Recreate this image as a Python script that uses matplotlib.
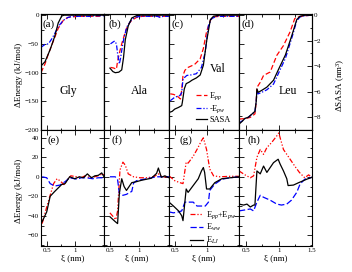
"""Energy and SASA change along the pulling coordinate xi for Gly/Ala/Val/Leu.

Top row: E_pp, -E_pw and SASA (right axis). Bottom row: energy decomposition.
"""

import matplotlib

matplotlib.use("Agg")
import matplotlib.pyplot as plt
from matplotlib.ticker import MultipleLocator

plt.rcParams["font.family"] = ["Liberation Serif", "DejaVu Serif"]
plt.rcParams["mathtext.fontset"] = "custom"
plt.rcParams["mathtext.rm"] = "Liberation Serif"
plt.rcParams["mathtext.it"] = "Liberation Serif:italic"

RESIDUES = ["Gly", "Ala", "Val", "Leu"]
TOP_TAGS = ["(a)", "(b)", "(c)", "(d)"]
BOT_TAGS = ["(e)", "(f)", "(g)", "(h)"]

# ---- top row: E_pp (red), -E_pw (blue) in kJ/mol, SASA (black) in nm^3 ----
a_pp_x = [0.40, 0.47, 0.53, 0.62, 0.70, 0.79, 0.87, 0.95, 1.05, 1.15, 1.25, 1.35, 1.42, 1.45, 1.50]
a_pp_y = [-100, -85, -67, -44, -23, -9, -4, -3, -2, -2, -2, -2, -2, 1, 1]
a_pw_x = [0.40, 0.47, 0.53, 0.59, 0.64, 0.70, 0.79, 0.87, 0.95, 1.05, 1.15, 1.25, 1.35, 1.50]
a_pw_y = [-56, -51, -50, -41, -32, -20, -9, -4, -2, -2, -2, -2, -1, -1]
a_sasa_x = [0.41, 0.47, 0.56, 0.64, 0.70, 0.76, 0.80, 0.90, 1.00, 1.10, 1.20, 1.30, 1.40, 1.50]
a_sasa_y = [-3.93, -3.65, -2.70, -1.66, -0.62, -0.08, 0, 0, 0, 0, 0, 0, 0, 0]

b_pp_x = [0.51, 0.56, 0.61, 0.63, 0.67, 0.70, 0.77, 0.82, 0.87, 0.95, 1.05, 1.20, 1.35, 1.50]
b_pp_y = [-91, -92, -94, -80, -62, -50, -26, -15, -9, -4, -2, -2, -2, -2]
b_pw_x = [0.51, 0.55, 0.58, 0.61, 0.63, 0.66, 0.68, 0.71, 0.74, 0.79, 0.87, 0.95, 1.05, 1.20, 1.30, 1.35, 1.40, 1.50]
b_pw_y = [-50, -47, -45, -50, -67, -85, -75, -55, -38, -20, -7, -3, -2, -2, -2, -4, -2, -2]
b_sasa_x = [0.50, 0.55, 0.59, 0.65, 0.70, 0.73, 0.76, 0.81, 0.87, 0.95, 1.00, 1.10, 1.20, 1.30, 1.40, 1.50]
b_sasa_y = [-4.15, -4.42, -4.51, -4.47, -4.29, -3.34, -1.93, -0.85, -0.22, -0.04, 0, 0, 0, 0, 0, 0]

c_pp_x = [0.42, 0.47, 0.52, 0.58, 0.60, 0.62, 0.65, 0.70, 0.76, 0.81, 0.89, 0.94, 0.99, 1.05, 1.10, 1.20, 1.30, 1.40, 1.50]
c_pp_y = [-137, -138, -140, -146, -130, -105, -96, -91, -88, -85, -76, -58, -29, -9, -3, -2, -2, -2, -2]
c_pw_x = [0.42, 0.49, 0.57, 0.60, 0.62, 0.68, 0.75, 0.83, 0.91, 0.97, 1.02, 1.07, 1.15, 1.25, 1.35, 1.50]
c_pw_y = [-149, -143, -140, -135, -111, -105, -104, -102, -91, -64, -18, -6, -2, -2, -2, -2]
c_sasa_x = [0.40, 0.45, 0.49, 0.55, 0.60, 0.61, 0.64, 0.67, 0.72, 0.76, 0.83, 0.89, 0.94, 0.99, 1.05, 1.10, 1.20, 1.30, 1.40, 1.50]
c_sasa_y = [-7.63, -7.54, -7.36, -7.23, -7.09, -6.82, -5.78, -5.37, -5.24, -5.10, -4.92, -4.69, -3.93, -2.07, -0.35, -0.08, 0, 0, 0, 0]

d_pp_x = [0.40, 0.50, 0.57, 0.64, 0.66, 0.67, 0.72, 0.77, 0.87, 0.97, 1.07, 1.17, 1.24, 1.30, 1.40, 1.50]
d_pp_y = [-181, -180, -178, -172, -150, -126, -117, -105, -99, -70, -53, -29, -6, -3, -1, 0]
d_pw_x = [0.40, 0.45, 0.49, 0.54, 0.60, 0.64, 0.66, 0.67, 0.69, 0.75, 0.82, 0.92, 1.00, 1.10, 1.20, 1.27, 1.32, 1.40, 1.50]
d_pw_y = [-188, -184, -180, -178, -172, -168, -150, -133, -137, -134, -130, -120, -100, -75, -38, -10, -3, -1, 0]
d_sasa_x = [0.40, 0.45, 0.49, 0.54, 0.60, 0.64, 0.66, 0.67, 0.69, 0.75, 0.82, 0.92, 1.00, 1.10, 1.20, 1.27, 1.32, 1.40, 1.50]
d_sasa_y = [-8.54, -8.31, -8.09, -8.00, -7.73, -7.54, -6.73, -5.78, -6.05, -5.87, -5.64, -5.10, -4.20, -3.11, -1.53, -0.35, -0.08, 0, 0]

# ---- bottom row: E_pp+E_pw (red), E_ww (blue), E_LJ (black), kJ/mol ----
e_sum_x = [0.42, 0.50, 0.56, 0.62, 0.68, 0.73, 0.80, 0.86, 0.92, 1.03, 1.10, 1.17, 1.26, 1.37, 1.48, 1.50]
e_sum_y = [-48, -31, -19, -7, -2, -4, -8, -3, 1, 0, -1, 1, -1, 0.5, 3, 2]
e_ww_x = [0.42, 0.50, 0.56, 0.64, 0.73, 0.82, 0.90, 1.03, 1.10, 1.19, 1.30, 1.40, 1.50]
e_ww_y = [0, -1, -7, -9.5, -8.5, -5, -1, -2.5, -1, -1, -2, -1, -1]
e_lj_x = [0.42, 0.50, 0.56, 0.64, 0.76, 0.82, 0.90, 0.99, 1.07, 1.14, 1.21, 1.28, 1.34, 1.40, 1.46, 1.50]
e_lj_y = [-46, -36, -20, -15, -8, -7, 0, -2, 0, -1, 3, -1, 1, 1.5, 4, 0]

f_sum_x = [0.50, 0.60, 0.63, 0.67, 0.72, 0.76, 0.81, 0.90, 1.01, 1.12, 1.24, 1.32, 1.38, 1.50]
f_sum_y = [-37, -44, -35, 7, 15, 12, 3, 0, -1, -1, 0, 3, 0, 0]
f_ww_x = [0.50, 0.59, 0.63, 0.66, 0.72, 0.78, 0.87, 0.90, 0.95, 1.12, 1.29, 1.50]
f_ww_y = [0, 0, -3, -17, -19, -18, -15, -6.5, -4, -2, 0, 0]
f_lj_x = [0.50, 0.59, 0.63, 0.66, 0.70, 0.74, 0.78, 0.87, 0.95, 1.04, 1.12, 1.20, 1.29, 1.32, 1.37, 1.43, 1.50]
f_lj_y = [-41, -46, -48, -17, -2, -10, -14, -6, -5, -3.5, -2.5, -1.5, 3.5, 9, -0.5, 1, -1]

g_sum_x = [0.40, 0.49, 0.57, 0.62, 0.67, 0.70, 0.78, 0.84, 0.91, 0.94, 0.99, 1.04, 1.10, 1.20, 1.36, 1.50]
g_sum_y = [1, -4, -6, -7, 15, 14, 21, 28, 37, 40, 28, 8, 1, 0, 0.5, 0.5]
g_ww_x = [0.40, 0.47, 0.55, 0.60, 0.65, 0.70, 0.78, 0.84, 0.97, 1.02, 1.04, 1.12, 1.23, 1.36, 1.50]
g_ww_y = [-36, -37, -36, -35, -26, -26, -26, -30, -30, -26, -14, -7.5, -2.5, -1, 0]
g_lj_x = [0.40, 0.47, 0.55, 0.60, 0.62, 0.67, 0.70, 0.78, 0.86, 0.91, 0.94, 0.96, 0.99, 1.04, 1.12, 1.23, 1.36, 1.50]
g_lj_y = [-26, -30, -35, -40, -45, -12.5, -16, -9, -2, 6, 9.5, 4.5, -12.5, -12.5, -6, -2, -1, 0]

h_sum_x = [0.40, 0.49, 0.57, 0.62, 0.67, 0.72, 0.77, 0.82, 0.89, 0.97, 1.00, 1.02, 1.07, 1.14, 1.24, 1.31, 1.39, 1.45, 1.50]
h_sum_y = [6, 2, -1, 1, 20, 28, 23, 30, 35, 42, 45, 40, 28, 21, 11, 4.5, -1, 2, -1]
h_ww_x = [0.40, 0.49, 0.57, 0.62, 0.67, 0.72, 0.77, 0.87, 0.97, 1.04, 1.12, 1.19, 1.27, 1.32, 1.39, 1.50]
h_ww_y = [-35, -34, -33, -35, -26, -19, -21, -24, -28, -29, -28, -24, -16, -7.5, -2.5, -0.5]
h_lj_x = [0.40, 0.47, 0.52, 0.57, 0.62, 0.64, 0.67, 0.72, 0.77, 0.82, 0.87, 0.92, 0.99, 1.02, 1.07, 1.12, 1.14, 1.22, 1.30, 1.37, 1.42, 1.50]
h_lj_y = [-28, -29, -28, -31, -29, -29, 6, 3, 11, 4.5, 9.5, 14.5, 18, 13, 6, -2, -9, -8.5, -6, -4, -2.5, -0.5]

TOP = [
    (a_pp_x, a_pp_y, a_pw_x, a_pw_y, a_sasa_x, a_sasa_y),
    (b_pp_x, b_pp_y, b_pw_x, b_pw_y, b_sasa_x, b_sasa_y),
    (c_pp_x, c_pp_y, c_pw_x, c_pw_y, c_sasa_x, c_sasa_y),
    (d_pp_x, d_pp_y, d_pw_x, d_pw_y, d_sasa_x, d_sasa_y),
]
BOTTOM = [
    (e_sum_x, e_sum_y, e_ww_x, e_ww_y, e_lj_x, e_lj_y),
    (f_sum_x, f_sum_y, f_ww_x, f_ww_y, f_lj_x, f_lj_y),
    (g_sum_x, g_sum_y, g_ww_x, g_ww_y, g_lj_x, g_lj_y),
    (h_sum_x, h_sum_y, h_ww_x, h_ww_y, h_lj_x, h_lj_y),
]

TAG_POS_TOP = [(0.03, 0.915), (0.07, 0.915), (0.03, 0.915), (0.03, 0.915)]
TAG_POS_BOT = [(0.11, 0.915), (0.12, 0.915), (0.15, 0.915), (0.12, 0.915)]
NAME_POS = [(0.43, 0.34), (0.55, 0.34), (0.70, 0.53), (0.67, 0.34)]

LW = 0.9
TICK_FS = 5
LABEL_FS = 6.5


def _ticks(ax, right=True):
    ax.tick_params(which="both", direction="in", top=True, right=right,
                   labelsize=TICK_FS, width=0.6, pad=1.5)
    ax.tick_params(which="major", length=3.5)
    ax.tick_params(which="minor", length=1.8)
    for s in ax.spines.values():
        s.set_linewidth(0.8)


fig = plt.figure(figsize=(3.52, 2.72), dpi=100)
gs = fig.add_gridspec(
    2, 4, width_ratios=[63, 65, 70, 73], hspace=0, wspace=0,
    left=41 / 352, right=312 / 352, top=1 - 14 / 272, bottom=1 - 246 / 272,
)

top_handles = None
bot_handles = None
for i in range(4):
    # top row
    ax = fig.add_subplot(gs[0, i])
    px, py, wx, wy, sx, sy = TOP[i]
    l_pp, = ax.plot(px, py, color="red", lw=LW, dashes=(4, 2))
    l_pw, = ax.plot(wx, wy, color="blue", lw=LW, dashes=(4, 1.5, 1, 1.5))
    ax.set_xlim(0.4, 1.5)
    ax.set_ylim(-200, 2)
    ax.xaxis.set_major_locator(MultipleLocator(0.5))
    ax.xaxis.set_minor_locator(MultipleLocator(0.25))
    ax.yaxis.set_major_locator(MultipleLocator(50))
    ax.yaxis.set_minor_locator(MultipleLocator(25))
    _ticks(ax, right=(i < 3))
    ax.set_xticklabels([])
    if i > 0:
        ax.set_yticklabels([])
    ax2 = ax.twinx()
    l_sasa, = ax2.plot(sx, sy, color="black", lw=LW)
    ax2.set_ylim(-9, 0.09)
    if i == 3:
        ax2.yaxis.set_major_locator(MultipleLocator(2))
        ax2.yaxis.set_minor_locator(MultipleLocator(1))
        ax2.tick_params(which="both", direction="in", labelsize=TICK_FS,
                        width=0.6, pad=1.5)
        ax2.tick_params(which="major", length=3.5)
        ax2.tick_params(which="minor", length=1.8)
    else:
        ax2.set_yticks([])
    for s in ax2.spines.values():
        s.set_linewidth(0.8)
    ax.text(*TAG_POS_TOP[i], TOP_TAGS[i], transform=ax.transAxes,
            fontsize=8, ha="left", va="center")
    ax.text(*NAME_POS[i], RESIDUES[i], transform=ax.transAxes,
            fontsize=8.5, ha="center", va="center")
    if i == 2:
        top_handles = [l_pp, l_pw, l_sasa]
        top_ax = ax2

    # bottom row
    bx = fig.add_subplot(gs[1, i])
    sx_, sy_, ww_x, ww_y, lj_x, lj_y = BOTTOM[i]
    l_sum, = bx.plot(sx_, sy_, color="red", lw=LW, dashes=(4, 1.5, 1, 1.5, 1, 1.5))
    l_ww, = bx.plot(ww_x, ww_y, color="blue", lw=LW, dashes=(5, 2))
    l_lj, = bx.plot(lj_x, lj_y, color="black", lw=LW)
    bx.set_xlim(0.4, 1.5)
    bx.set_ylim(-71, 48)
    bx.xaxis.set_minor_locator(MultipleLocator(0.25))
    bx.yaxis.set_major_locator(MultipleLocator(20))
    bx.yaxis.set_minor_locator(MultipleLocator(10))
    bx.set_xticks([0.5, 1.0, 1.5])
    bx.set_xticklabels(["0.5", "1", "1.5" if i == 3 else ""])
    _ticks(bx)
    if i > 0:
        bx.set_yticklabels([])
    bx.set_xlabel("ξ (nm)", fontsize=LABEL_FS, labelpad=1)
    bx.text(*TAG_POS_BOT[i], BOT_TAGS[i], transform=bx.transAxes,
            fontsize=8, ha="left", va="center")
    if i == 2:
        bot_handles = [l_sum, l_ww, l_lj]
        bot_ax = bx

top_ax.legend(
    top_handles, ["E$_{pp}$", "-E$_{pw}$", "SASA"], loc="upper left",
    bbox_to_anchor=(196 / 352, 1 - 90 / 272), bbox_transform=fig.transFigure,
    frameon=False, fontsize=6, handlelength=1.3, handletextpad=0.3,
    labelspacing=0.15, borderpad=0, borderaxespad=0,
)
bot_ax.legend(
    bot_handles, ["E$_{pp}$+E$_{pw}$", "E$_{ww}$", "E$_{LJ}$"], loc="upper left",
    bbox_to_anchor=(190 / 352, 1 - 209 / 272), bbox_transform=fig.transFigure,
    frameon=False, fontsize=6, handlelength=1.6, handletextpad=0.3,
    labelspacing=0.15, borderpad=0, borderaxespad=0,
)

fig.text(19 / 352, 1 - 75 / 272, "ΔEnergy (kJ/mol)", rotation=90,
         fontsize=LABEL_FS, ha="center", va="center")
fig.text(19 / 352, 1 - 191 / 272, "ΔEnergy (kJ/mol)", rotation=90,
         fontsize=LABEL_FS, ha="center", va="center")
fig.text(341 / 352, 1 - 85 / 272, "ΔSASA (nm$^3$)", rotation=90,
         fontsize=LABEL_FS, ha="center", va="center")

fig.savefig("out.png", dpi=100)
